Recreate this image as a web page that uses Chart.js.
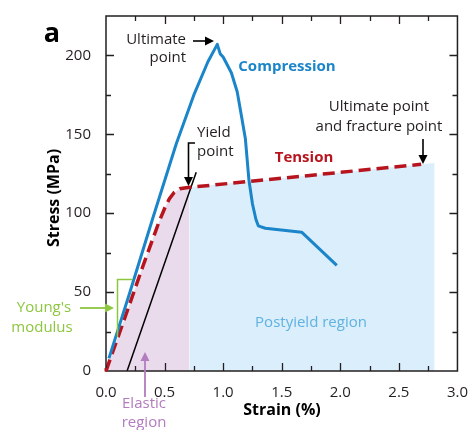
<!DOCTYPE html>
<html><head><meta charset="utf-8">
<script src="https://cdn.jsdelivr.net/npm/chart.js@4.4.0/dist/chart.umd.min.js"></script>
<style>html,body{margin:0;padding:0;background:#fff}#wrap{width:473px;height:430px}</style>
</head><body><div id="wrap"><canvas id="c" width="473" height="430"></canvas></div>
<script>
// ---- data (strain %, stress MPa) ----
const compressionStrain = [0.025, 0.20, 0.40, 0.60, 0.75, 0.87, 0.95, 0.975, 1.00, 1.07, 1.12, 1.16, 1.19, 1.22, 1.25, 1.28, 1.30, 1.36, 1.67, 1.97];
const compressionStress = [8, 49, 97, 144, 175, 196, 207, 201, 199, 189, 177, 160, 147, 121, 106, 96, 92, 90.5, 88, 67];
const tensionStrain = [0, 0.10, 0.20, 0.32, 0.45, 0.50, 0.54, 0.58, 0.63, 0.70, 0.77, 2.69];
const tensionStress = [0, 21, 42, 67.5, 94, 103, 109, 113, 115.5, 116.3, 116.8, 131];
const offsetStrain = [0.18, 0.77];
const offsetStress = [0, 126];
const elasticStrain = [0, 0.10, 0.20, 0.32, 0.45, 0.50, 0.54, 0.58, 0.63, 0.70, 0.712];
const elasticStress = [0, 21, 42, 67.5, 94, 103, 109, 113, 115.5, 116.3, 116.4];
const postyieldStrain = [0.712, 2.805];
const postyieldStress = [116.4, 131.8];
const xTicks = [0, 0.5, 1.0, 1.5, 2.0, 2.5, 3.0];
const yTicks = [0, 50, 100, 150, 200];

const pts = (xs, ys) => xs.map((x, i) => ({x, y: ys[i]}));
const FONT = "'Open Sans', 'Noto Sans', sans-serif";
const INK = '#231f20';
const BLUE = 'rgb(27,133,201)';
const RED = 'rgb(184,20,30)';

const frame = {
  id: 'frame',
  afterDatasetsDraw(chart) {
    const {ctx, chartArea: a, scales: {x, y}} = chart;
    ctx.save();
    ctx.strokeStyle = INK; ctx.lineWidth = 1.5;
    ctx.strokeRect(a.left, a.top, a.right - a.left, a.bottom - a.top);
    ctx.lineWidth = 1.3;
    ctx.beginPath();
    for (let v = 0.25; v < 3; v += 0.25) {
      const px = Math.round(x.getPixelForValue(v)) + 0.5;
      const len = (Math.abs(v * 2 - Math.round(v * 2)) < 1e-6) ? 8 : 5;
      ctx.moveTo(px, a.bottom); ctx.lineTo(px, a.bottom - len);
      ctx.moveTo(px, a.top); ctx.lineTo(px, a.top + len);
    }
    for (let v = 25; v < 225; v += 25) {
      const py = Math.round(y.getPixelForValue(v)) + 0.5;
      const len = (v % 50 === 0) ? 8 : 5;
      ctx.moveTo(a.left, py); ctx.lineTo(a.left + len, py);
      ctx.moveTo(a.right, py); ctx.lineTo(a.right - len, py);
    }
    ctx.stroke();
    ctx.fillStyle = RED;
    const ox = x.getPixelForValue(tensionStrain[0]), oy = y.getPixelForValue(tensionStress[0]);
    ctx.fillRect(ox - 1.5, oy - 3, 3.5, 3.5);
    ctx.restore();
  }
};

function arrowHead(ctx, x, y, dir, color) {
  ctx.fillStyle = color;
  ctx.beginPath();
  if (dir === 'r') { ctx.moveTo(x, y); ctx.lineTo(x - 9, y - 4.5); ctx.lineTo(x - 9, y + 4.5); }
  if (dir === 'd') { ctx.moveTo(x, y); ctx.lineTo(x - 4.5, y - 9); ctx.lineTo(x + 4.5, y - 9); }
  if (dir === 'u') { ctx.moveTo(x, y); ctx.lineTo(x - 4.5, y + 9); ctx.lineTo(x + 4.5, y + 9); }
  ctx.closePath(); ctx.fill();
}

const annot = {
  id: 'annot',
  afterDraw(chart) {
    const ctx = chart.ctx;
    ctx.save();
    ctx.textBaseline = 'middle';
    ctx.fillStyle = '#000'; ctx.textAlign = 'center';
    ctx.font = `bold 27px ${FONT}`;
    ctx.fillText('a', 52, 34);
    ctx.font = `bold 16px ${FONT}`;
    ctx.fillText('Strain (%)', 282, 410);
    ctx.save(); ctx.translate(54, 198); ctx.rotate(-Math.PI / 2);
    ctx.fillText('Stress (MPa)', 0, 0); ctx.restore();
    ctx.fillStyle = INK; ctx.font = `15px ${FONT}`; ctx.textAlign = 'right';
    ctx.fillText('Ultimate', 186, 40);
    ctx.fillText('point', 186, 58);
    ctx.strokeStyle = '#000'; ctx.lineWidth = 1.6;
    ctx.beginPath(); ctx.moveTo(193, 41); ctx.lineTo(206, 41); ctx.stroke();
    arrowHead(ctx, 214, 41, 'r', '#000');
    ctx.fillStyle = INK; ctx.textAlign = 'left';
    ctx.fillText('Yield', 197, 133);
    ctx.fillText('point', 197, 152);
    ctx.beginPath(); ctx.moveTo(195, 143); ctx.lineTo(188.5, 143); ctx.lineTo(188.5, 177); ctx.stroke();
    arrowHead(ctx, 188.5, 186, 'd', '#000');
    ctx.fillStyle = INK; ctx.textAlign = 'center';
    ctx.fillText('Ultimate point', 379, 107);
    ctx.fillText('and fracture point', 379, 127);
    ctx.beginPath(); ctx.moveTo(423, 139); ctx.lineTo(423, 156); ctx.stroke();
    arrowHead(ctx, 423, 164, 'd', '#000');
    ctx.font = `bold 15px ${FONT}`;
    ctx.fillStyle = BLUE; ctx.fillText('Compression', 287, 67);
    ctx.fillStyle = RED; ctx.fillText('Tension', 304, 158);
    const GREEN = 'rgb(141,198,63)';
    ctx.font = `15px ${FONT}`; ctx.fillStyle = GREEN;
    ctx.fillText("Young's", 44, 308);
    ctx.fillText('modulus', 42, 328);
    ctx.strokeStyle = GREEN; ctx.lineWidth = 1.8;
    ctx.beginPath(); ctx.moveTo(80, 308); ctx.lineTo(105, 308); ctx.stroke();
    arrowHead(ctx, 114, 308, 'r', GREEN);
    ctx.lineWidth = 1.5;
    ctx.beginPath(); ctx.moveTo(132.5, 279.5); ctx.lineTo(117.5, 279.5); ctx.lineTo(117.5, 337); ctx.stroke();
    ctx.fillStyle = 'rgb(95,178,226)';
    ctx.fillText('Postyield region', 311, 323);
    const PURPLE = 'rgb(178,124,190)';
    ctx.fillStyle = PURPLE;
    ctx.fillText('Elastic', 144, 404);
    ctx.fillText('region', 144, 423);
    ctx.strokeStyle = PURPLE; ctx.lineWidth = 1.8;
    ctx.beginPath(); ctx.moveTo(145, 397); ctx.lineTo(145, 360); ctx.stroke();
    arrowHead(ctx, 145, 352, 'u', PURPLE);
    ctx.restore();
  }
};

new Chart(document.getElementById('c'), {
  type: 'line',
  data: {
    datasets: [
      {label: 'Elastic region', data: pts(elasticStrain, elasticStress), fill: 'origin',
       backgroundColor: 'rgb(233,218,236)', borderWidth: 0, pointRadius: 0, order: 5},
      {label: 'Postyield region', data: pts(postyieldStrain, postyieldStress), fill: 'origin',
       backgroundColor: 'rgb(218,238,252)', borderWidth: 0, pointRadius: 0, order: 4},
      {label: 'Offset', data: pts(offsetStrain, offsetStress), borderColor: '#000', borderWidth: 1.5,
       pointRadius: 0, fill: false, order: 3},
      {label: 'Tension', data: pts(tensionStrain, tensionStress), borderColor: RED, borderWidth: 3.5,
       borderDash: [12, 6], borderDashOffset: 0, pointRadius: 0, fill: false, order: 2},
      {label: 'Compression', data: pts(compressionStrain, compressionStress), borderColor: BLUE, borderWidth: 3,
       pointRadius: 0, fill: false, order: 1, borderJoinStyle: 'round'}
    ]
  },
  options: {
    responsive: false, animation: false, devicePixelRatio: 1,
    layout: {padding: {top: 16, right: 13, left: 0, bottom: 0}},
    plugins: {legend: {display: false}, tooltip: {enabled: false}},
    elements: {line: {tension: 0}},
    scales: {
      x: {type: 'linear', min: 0, max: 3,
          afterFit: s => { s.height = 59; },
          afterBuildTicks: s => { s.ticks = xTicks.map(v => ({value: v})); },
          grid: {display: false}, border: {display: false},
          ticks: {padding: 5, color: INK, font: {family: FONT, size: 15}, maxRotation: 0,
                  callback: v => Number(v).toFixed(1)}},
      y: {type: 'linear', min: 0, max: 225,
          afterFit: s => { s.width = 106; },
          afterBuildTicks: s => { s.ticks = yTicks.map(v => ({value: v})); },
          grid: {display: false}, border: {display: false},
          ticks: {padding: 7, color: INK, font: {family: FONT, size: 15}}}
    }
  },
  plugins: [frame, annot]
});
</script></body></html>
